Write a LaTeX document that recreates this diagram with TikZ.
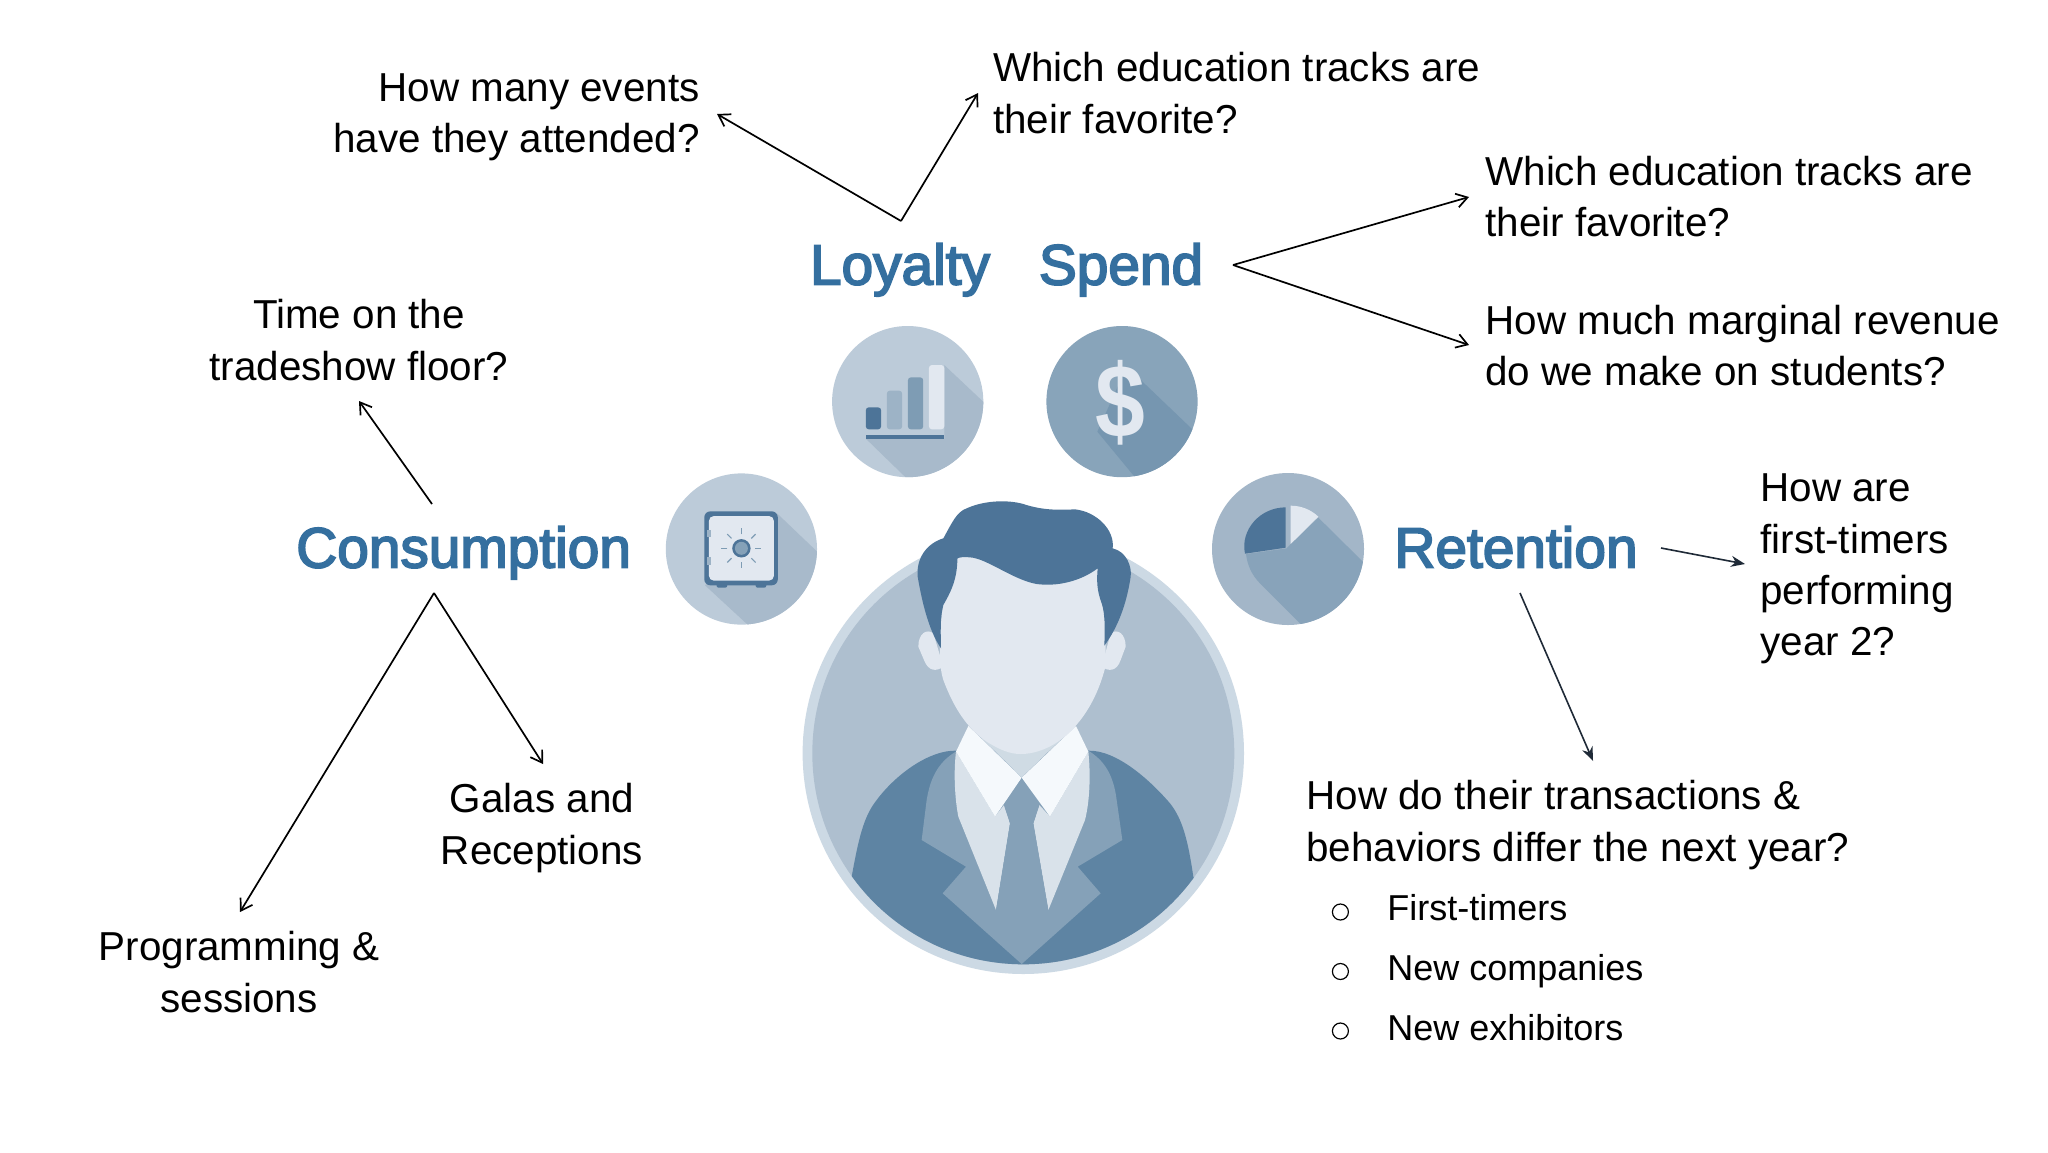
\documentclass[tikz,border=0pt]{standalone}
\usepackage{fontspec}
\usepackage{graphicx}
\setmainfont{Liberation Sans}
\newfontfamily\headfont[FakeBold=3.2]{Liberation Sans}
\usetikzlibrary{arrows.meta,calc}
\definecolor{hairc}{HTML}{4D7498}
\definecolor{facec}{HTML}{E2E8F0}
\definecolor{ringc}{HTML}{CCD9E4}
\definecolor{discc}{HTML}{AEBFCF}
\definecolor{jackc}{HTML}{5E84A3}
\definecolor{lapc}{HTML}{85A1B8}
\definecolor{shirtc}{HTML}{D9E2EA}
\definecolor{collc}{HTML}{F5F9FC}
\definecolor{neckc}{HTML}{CFDBE4}
\definecolor{headc}{HTML}{346F9F}
\definecolor{tipc}{HTML}{1F2A37}
\definecolor{lightdisc}{HTML}{BCCBD9}
\definecolor{lightshad}{HTML}{A8BACB}
\definecolor{dollardisc}{HTML}{88A4BA}
\definecolor{dollarshad}{HTML}{7696B0}
\definecolor{piedisc}{HTML}{A3B6C8}
\definecolor{pieshad}{HTML}{88A3BA}
\definecolor{bar2}{HTML}{9DB3C6}
\definecolor{bar3}{HTML}{7E9CB4}
\tikzset{
  x=0.5pt,y=-0.5pt,
  body/.style={inner sep=0,font=\fontsize{20.2}{25.6}\selectfont},
  small/.style={inner sep=0,anchor=base west,font=\fontsize{18}{22}\selectfont},
  head/.style={inner sep=0,anchor=base,text=headc,font=\headfont\fontsize{28.4}{32}\selectfont},
  openarr/.style={line width=0.85pt,draw=black,-{Straight Barb[length=5.5pt,width=7pt]}},
  solidarr/.style={line width=0.8pt,draw=tipc,-{Stealth[length=7pt,width=5.5pt]}},
  zoomman/.style={shift={(780,480)},xscale=0.33333,yscale=0.33333},
  zoomicon/.style={shift={(640,300)},xscale=0.38270,yscale=0.33333},
  zoompie/.style={shift={(1190,450)},xscale=0.33333,yscale=0.33333},
}
\begin{document}
\begin{tikzpicture}
\useasboundingbox (0,0) rectangle (2048,1152);
\fill[white] (0,0) rectangle (2048,1152);

% ---- person
\fill[ringc] (1023.3,753.3) circle[radius=220.7];
\fill[discc] (1023.3,753.3) circle[radius=211];
\begin{scope}
\clip (1023.3,753.3) circle[radius=211];
\begin{scope}[zoomman]
\fill[jackc] (215,1190) .. controls (235,1080) and (250,1010) .. (290,960)
  .. controls (350,880) and (450,810) .. (528,812) -- (925,812)
  .. controls (1010,810) and (1110,900) .. (1170,970)
  .. controls (1210,1020) and (1225,1090) .. (1240,1190) -- (1400,1600) -- (100,1600) -- cycle;
\fill[lapc] (527,815) .. controls (470,850) and (450,900) .. (440,960) -- (425,1080) -- (558,1160) -- (488,1240)
  -- (725,1452) -- (962,1240) -- (893,1160) -- (1027,1080) -- (1010,960)
  .. controls (1000,880) and (970,840) .. (925,812) -- cycle;
\end{scope}
\end{scope}
\begin{scope}[zoomman]
\fill[shirtc] (528,815) .. controls (520,880) and (525,960) .. (535,1010) -- (648,1290) -- (690,1030) -- (672,975) -- (645,1010) -- cycle;
\fill[shirtc] (925,815) .. controls (932,880) and (930,960) .. (915,1020) -- (805,1290) -- (760,1030) -- (778,975) -- (810,1010) -- cycle;
\fill[neckc] (565,735) -- (725,892) -- (888,735) -- cycle;
\fill[collc] (565,738) -- (725,893) -- (645,1010) -- (528,815) -- cycle;
\fill[collc] (888,738) -- (925,815) -- (810,1010) -- (725,893) -- cycle;
\fill[lapc] (725,895) -- (778,975) -- (760,1030) -- (805,1290) -- (725,1452) -- (648,1290) -- (690,1030) -- (672,975) -- cycle;
\fill[facec] (415,500) .. controls (415,460) and (440,445) .. (460,460) -- (490,560) .. controls (470,575) and (445,575) .. (432,540) -- cycle;
\fill[facec] (1037,500) .. controls (1037,460) and (1012,445) .. (992,460) -- (965,560) .. controls (985,575) and (1010,575) .. (1022,540) -- cycle;
\fill[facec] (482,430) .. controls (480,500) and (475,550) .. (490,600)
  .. controls (520,680) and (560,745) .. (620,785)
  .. controls (660,810) and (690,822) .. (722,822)
  .. controls (770,822) and (820,800) .. (860,765)
  .. controls (920,710) and (955,640) .. (975,565)
  .. controls (978,500) and (978,440) .. (972,400) -- (950,240) -- (532,225) -- (490,370) -- cycle;
\fill[hairc] (483,505) .. controls (445,450) and (425,360) .. (413,290)
  .. controls (408,235) and (440,190) .. (490,175)
  .. controls (515,130) and (530,95) .. (560,85)
  .. controls (610,62) and (680,58) .. (730,72)
  .. controls (790,92) and (840,90) .. (885,88)
  .. controls (950,95) and (1005,150) .. (998,205)
  .. controls (1040,215) and (1056,260) .. (1052,290)
  .. controls (1040,370) and (1015,440) .. (973,497)
  .. controls (975,440) and (975,400) .. (965,370)
  .. controls (950,330) and (950,300) .. (953,265)
  .. controls (900,305) and (830,320) .. (770,312)
  .. controls (700,300) and (620,235) .. (570,232)
  .. controls (550,230) and (535,232) .. (532,236)
  .. controls (532,300) and (510,340) .. (490,375)
  .. controls (480,410) and (482,460) .. (483,505) -- cycle;
\end{scope}

% ---- chart icon
\fill[lightdisc] (907.7,401.6) circle[radius=75.6];
\begin{scope}
\clip (907.7,401.6) circle[radius=75.6];
\begin{scope}[zoomicon]
\fill[lightshad] (795,195) -- (1100,525) -- (800,650) -- (590,416) -- (795,416) -- cycle;
\end{scope}
\end{scope}
\begin{scope}[zoomicon]
\fill[hairc,rounded corners=1.5pt] (590,322) rectangle (630,388);
\fill[bar2,rounded corners=1.5pt] (645,272) rectangle (685,388);
\fill[bar3,rounded corners=1.5pt] (700,232) rectangle (740,388);
\fill[facec,rounded corners=1.5pt] (755,195) rectangle (795,388);
\fill[hairc] (590,404) rectangle (795,416);
\end{scope}

% ---- dollar icon
\fill[dollardisc] (1122,401.6) circle[radius=75.6];
\begin{scope}
\clip (1122,401.6) circle[radius=75.6];
\begin{scope}[zoomicon]
\fill[dollarshad] (1272,200) -- (1600,560) -- (1400,680) -- (1195,395) -- cycle;
\end{scope}
\end{scope}
\node[inner sep=0,text=facec,font=\fontsize{52}{54}\selectfont\bfseries] (dollar) at (1120,402.5) {\scalebox{0.86}[1]{\$}};

% ---- safe icon
\fill[lightdisc] (741.4,549) circle[radius=75.6];
\begin{scope}
\clip (741.4,549) circle[radius=75.6];
\begin{scope}[zoomicon]
\fill[lightshad] (358,640) -- (650,960) -- (400,1100) -- (170,856) -- cycle;
\end{scope}
\end{scope}
\begin{scope}[zoomicon]
\fill[hairc,rounded corners=1pt] (200,850) rectangle (228,863);
\fill[hairc,rounded corners=1pt] (302,850) rectangle (330,863);
\fill[hairc,rounded corners=3pt] (168,634) rectangle (360,856);
\fill[facec,rounded corners=2.5pt] (180,648) rectangle (350,842);
\fill[bar2] (175,690) rectangle (185,712);
\fill[bar2] (175,772) rectangle (185,794);
\end{scope}
\fill[hairc] (741.4,548.3) circle[radius=9.2];
\fill[lapc] (741.4,548.3) circle[radius=6.5];
\foreach \a in {0,45,...,315}{
  \draw[line width=0.6pt,draw=bar3] ($(741.4,548.3)+(\a:14)$) -- ($(741.4,548.3)+(\a:20)$);
}

% ---- pie icon
\fill[piedisc] (1288,549) circle[radius=76];
\begin{scope}
\clip (1288,549) circle[radius=76];
\begin{scope}[zoompie]
\fill[pieshad] (385,203) -- (650,465) -- (480,680) -- (335,525) -- (210,400)
  .. controls (185,375) and (172,345) .. (168,312) -- (290,295) -- (302,282) -- cycle;
\end{scope}
\end{scope}
\begin{scope}[zoompie]
\fill[hairc] (287,293) -- (287,172) .. controls (210,172) and (150,240) .. (165,311) -- cycle;
\fill[facec] (302,282) -- (302,167) .. controls (332,167) and (362,178) .. (385,200) -- cycle;
\end{scope}

% ---- headings
\node[head] (loyalty) at (900,284.5) {Loyalty};
\node[head] (spend) at (1121,284.5) {Spend};
\node[head] (consumption) at (463.6,567.5) {Consumption};
\node[head] (retention) at (1516,567.5) {Retention};

% ---- question texts
\node[body,anchor=east,align=right] (events) at (700,117) {How many events\\have they attended?};
\node[body,anchor=west,align=left] (tracksa) at (992.6,93) {Which education tracks are\\their favorite?};
\node[body,anchor=west,align=left] (tracksb) at (1485,196.6) {Which education tracks are\\their favorite?};
\node[body,anchor=west,align=left] (revenue) at (1485,345.4) {How much marginal revenue\\do we make on students?};
\node[body,align=center] (floor) at (359,340) {Time on the\\tradeshow floor?};
\node[body,anchor=west,align=left] (firsty) at (1760,569) {How are\\first-timers\\performing\\year 2?};
\node[body,anchor=west,align=left] (differ) at (1306,825) {How do their transactions \&\\behaviors differ the next year?};
\node[body,align=center] (galas) at (542,828) {Galas and\\Receptions};
\node[body,align=center] (prog) at (239,972) {Programming \&\\sessions};
\node[small] (ft) at (1387,920) {First-timers};
\node[small] (nc) at (1387,980) {New companies};
\node[small] (ne) at (1387,1040) {New exhibitors};
\draw[line width=0.6pt] (1340.4,912) circle[radius=8];
\draw[line width=0.6pt] (1340.4,971.5) circle[radius=8];
\draw[line width=0.6pt] (1340.4,1031) circle[radius=8];

% ---- connector anchors
\coordinate (lapex) at (901,221);
\coordinate (lend1) at (717,114);
\coordinate (lend2) at (978,93);
\coordinate (sapex) at (1233,265);
\coordinate (send1) at (1469,197);
\coordinate (send2) at (1469,345);
\coordinate (cup) at (432,504);
\coordinate (cupend) at (359,401);
\coordinate (capex) at (434,593);
\coordinate (cend1) at (240,912);
\coordinate (cend2) at (543,764);
\coordinate (rst) at (1661,548);
\coordinate (rend) at (1745,564);
\coordinate (rst2) at (1520,593);
\coordinate (rend2) at (1593,761);

\draw[openarr] (lapex) -- (lend1);
\draw[openarr] (lapex) -- (lend2);
\draw[openarr] (sapex) -- (send1);
\draw[openarr] (sapex) -- (send2);
\draw[openarr] (cup) -- (cupend);
\draw[openarr] (capex) -- (cend1);
\draw[openarr] (capex) -- (cend2);
\draw[solidarr] (rst) -- (rend);
\draw[solidarr] (rst2) -- (rend2);
\end{tikzpicture}
\end{document}
